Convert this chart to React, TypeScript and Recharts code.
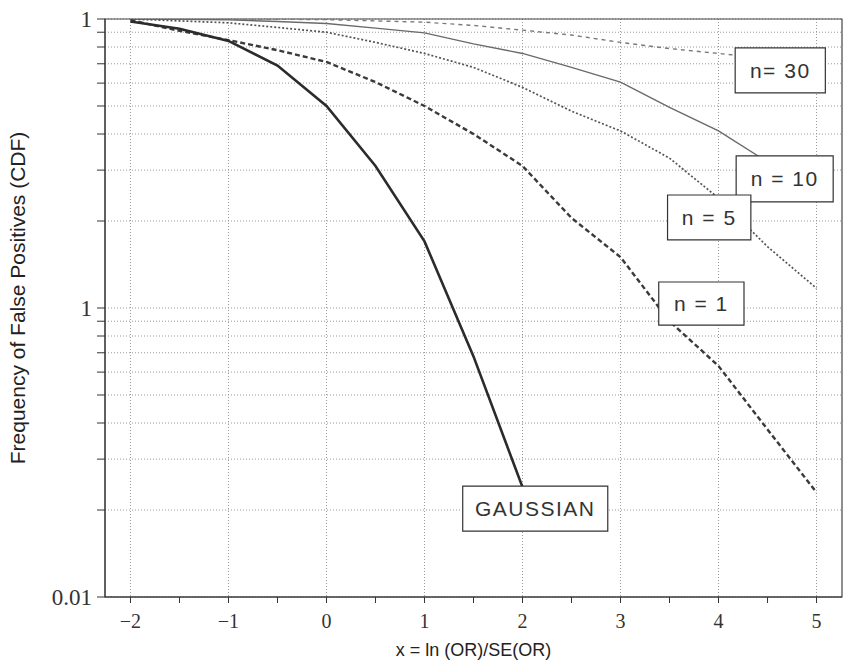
import React from 'react';
import { LineChart, Line, XAxis, YAxis, CartesianGrid, ReferenceArea, Label } from 'recharts';

// x positions where the curves are sampled
const xValues = [-2, -1.5, -1, -0.5, 0, 0.5, 1, 1.5, 2, 2.5, 3, 3.5, 4, 4.5, 5];

// CDF values (null = not drawn)
const gaussian = [0.98, 0.925, 0.84, 0.69, 0.5, 0.31, 0.17, 0.068, 0.024, null, null, null, null, null, null];
const n1 = [0.99, 0.91, 0.845, 0.78, 0.71, 0.605, 0.5, 0.4, 0.31, 0.205, 0.15, 0.09, 0.063, 0.038, 0.023];
const n5 = [1.0, 0.985, 0.97, 0.935, 0.9, 0.83, 0.76, 0.68, 0.58, 0.48, 0.41, 0.33, 0.24, 0.163, 0.117];
const n10 = [1.0, 0.998, 0.993, 0.98, 0.965, 0.93, 0.895, 0.82, 0.76, 0.68, 0.605, 0.495, 0.41, 0.32, 0.26];
const n30 = [1.0, 1.0, 1.0, 0.998, 0.995, 0.985, 0.975, 0.95, 0.915, 0.88, 0.83, 0.79, 0.76, 0.73, 0.7];

const xTicks = [-2, -1.5, -1, -0.5, 0, 0.5, 1, 1.5, 2, 2.5, 3, 3.5, 4, 4.5, 5];
const xGridValues = [-2, -1, 0, 1, 2, 3, 4, 5];
const yTicks = [
  0.01, 0.02, 0.03, 0.04, 0.05, 0.06, 0.07, 0.08, 0.09,
  0.1, 0.2, 0.3, 0.4, 0.5, 0.6, 0.7, 0.8, 0.9, 1,
];
const yLabelValues = [1, 0.1, 0.01];
const yLabelTexts = ['1', '1', '0.01'];

// label boxes, in data coordinates
const boxes = [
  { text: 'n= 30', x1: 4.17, x2: 5.09, y1: 0.555, y2: 0.794 },
  { text: 'n = 10', x1: 4.18, x2: 5.17, y1: 0.233, y2: 0.336 },
  { text: 'n = 5', x1: 3.48, x2: 4.33, y1: 0.172, y2: 0.246 },
  { text: 'n = 1', x1: 3.39, x2: 4.26, y1: 0.0873, y2: 0.123 },
  { text: 'GAUSSIAN', x1: 1.39, x2: 2.87, y1: 0.0169, y2: 0.0242 },
];

const data = xValues.map((x, i) => ({
  x,
  gaussian: gaussian[i],
  n1: n1[i],
  n5: n5[i],
  n10: n10[i],
  n30: n30[i],
}));

const serif = '"Liberation Serif", "DejaVu Serif", serif';
const sans = '"Liberation Sans", Arial, sans-serif';

const XTick = (props: any) => {
  const { x, y, payload } = props;
  const v = payload.value;
  if (!Number.isInteger(v)) return null;
  const txt = v < 0 ? `\u2212${Math.abs(v)}` : String(v);
  return (
    <text x={x} y={y} dy="0.71em" textAnchor="middle" fontFamily={serif} fontSize={20} fill="#333">
      {txt}
    </text>
  );
};

const YTick = (props: any) => {
  const { x, y, payload } = props;
  const idx = yLabelValues.findIndex((v) => Math.abs(v - payload.value) < 1e-9);
  if (idx < 0) return null;
  return (
    <text x={x} y={y} dy="0.355em" textAnchor="end" fontFamily={serif} fontSize={23} fill="#333">
      {yLabelTexts[idx]}
    </text>
  );
};

export default function App() {
  return (
    <div style={{ position: 'absolute', left: 0, top: 0, background: '#fff' }}>
      <LineChart width={845} height={664} data={data} margin={{ top: 19, right: 3, bottom: 0, left: 0 }}>
        <CartesianGrid
          stroke="#999"
          strokeDasharray="1 2"
          verticalValues={xGridValues}
          horizontalValues={yTicks}
        />
        <XAxis
          dataKey="x"
          type="number"
          domain={[-2.26, 5.26]}
          ticks={xTicks}
          interval={0}
          allowDataOverflow
          height={67}
          tickSize={6}
          tickMargin={11}
          stroke="#333"
          tick={<XTick />}
        >
          <Label
            value="x = ln (OR)/SE(OR)"
            position="insideBottom"
            offset={8}
            style={{ fontFamily: sans, fontSize: 18, fill: '#222' }}
          />
        </XAxis>
        <YAxis
          type="number"
          scale="log"
          domain={[0.01, 1]}
          ticks={yTicks}
          interval={0}
          allowDataOverflow
          width={105}
          tickSize={8}
          tickMargin={5}
          stroke="#333"
          tick={<YTick />}
        >
          <Label
            content={(p: any) => {
              const vb = p.viewBox || { x: 0, y: 19, width: 105, height: 578 };
              const cx = vb.x + 18;
              const cy = vb.y + vb.height / 2 - 10;
              return (
                <text
                  x={cx}
                  y={cy}
                  transform={`rotate(-90, ${cx}, ${cy})`}
                  textAnchor="middle"
                  dy="0.355em"
                  fontFamily={sans}
                  fontSize={21}
                  fill="#222"
                >
                  Frequency of False Positives (CDF)
                </text>
              );
            }}
          />
        </YAxis>

        <Line type="linear" dataKey="n30" stroke="#7a7a7a" strokeWidth={1.4} strokeDasharray="4 4" dot={false} isAnimationActive={false} />
        <Line type="linear" dataKey="n10" stroke="#6a6a6a" strokeWidth={1.4} dot={false} isAnimationActive={false} />
        <Line type="linear" dataKey="n5" stroke="#555" strokeWidth={1.7} strokeDasharray="2 2" dot={false} isAnimationActive={false} />
        <Line type="linear" dataKey="n1" stroke="#3a3a3a" strokeWidth={2.4} strokeDasharray="5 3" dot={false} isAnimationActive={false} />
        <Line type="linear" dataKey="gaussian" stroke="#2b2b2b" strokeWidth={2.6} dot={false} isAnimationActive={false} />

        {/* plot frame */}
        <ReferenceArea x1={-2.26} x2={5.26} y1={0.01} y2={1} fill="none" stroke="#444" strokeWidth={1.2} ifOverflow="visible" />

        {boxes.map((b) => (
          <ReferenceArea
            key={b.text}
            x1={b.x1}
            x2={b.x2}
            y1={b.y1}
            y2={b.y2}
            fill="#fff"
            fillOpacity={1}
            stroke="#333"
            strokeWidth={1.2}
            ifOverflow="visible"
            zIndex={1000}
            label={{
              value: b.text,
              position: 'center',
              fontFamily: sans,
              fontSize: 21,
              letterSpacing: 1.5,
              fill: '#333',
            }}
          />
        ))}
      </LineChart>
    </div>
  );
}
